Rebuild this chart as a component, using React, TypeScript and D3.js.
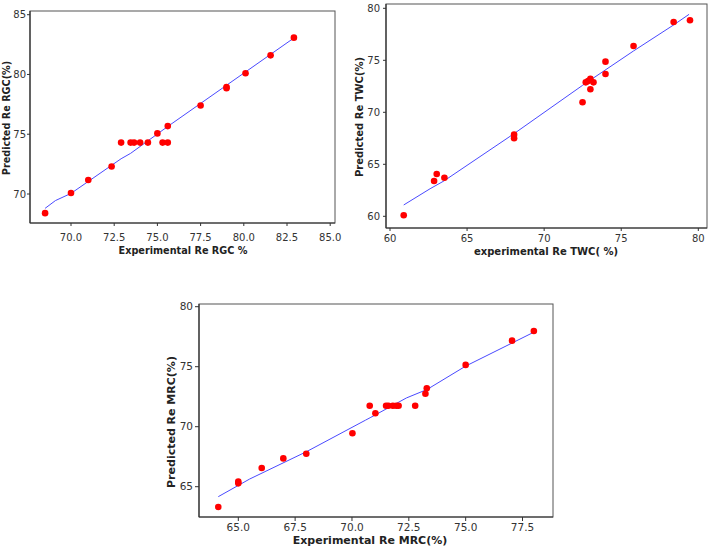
import React from "react";
import * as d3 from "d3";

// ---------- Panel 1: RGC ----------
const rgcExp = [68.5, 70.0, 71.0, 72.35, 72.9, 73.45, 73.65, 74.0, 74.45, 75.0, 75.3, 75.6, 75.6, 77.5, 79.0, 79.0, 80.1, 81.55, 82.9];
const rgcPred = [68.4, 70.08, 71.17, 72.3, 74.3, 74.3, 74.3, 74.3, 74.3, 75.07, 74.3, 74.3, 75.68, 77.41, 78.85, 78.95, 80.1, 81.6, 83.08];
const rgcFitX = [68.5, 69.1, 70.0, 72.35, 72.9, 73.45, 75.6, 82.9];
const rgcFitY = [68.8, 69.45, 70.05, 72.4, 72.95, 73.4, 75.65, 83.05];
const rgcXTicks = [70.0, 72.5, 75.0, 77.5, 80.0, 82.5, 85.0];
const rgcYTicks = [70, 75, 80, 85];

// ---------- Panel 2: TWC ----------
const twcExp = [60.89, 62.86, 63.03, 63.53, 68.05, 68.05, 72.49, 72.7, 72.85, 73.0, 73.2, 73.0, 73.98, 73.98, 75.8, 78.4, 79.46];
const twcPred = [60.1, 63.4, 64.07, 63.71, 67.85, 67.5, 70.96, 72.88, 73.0, 73.23, 72.88, 72.21, 74.87, 73.68, 76.37, 78.68, 78.85];
const twcFitX = [60.89, 62.6, 63.5, 68.05, 72.5, 75.8, 78.4, 79.4];
const twcFitY = [61.09, 62.65, 63.4, 67.95, 72.6, 75.9, 78.4, 79.42];
const twcXTicks = [60, 65, 70, 75, 80];
const twcYTicks = [60, 65, 70, 75, 80];

// ---------- Panel 3: MRC ----------
const mrcExp = [64.12, 65.0, 65.0, 66.03, 66.98, 67.99, 70.02, 70.78, 71.03, 71.5, 71.6, 71.8, 71.95, 72.05, 72.78, 73.23, 73.29, 75.0, 77.04, 78.0];
const mrcPred = [63.31, 65.42, 65.28, 66.56, 67.36, 67.75, 69.45, 71.75, 71.12, 71.75, 71.75, 71.75, 71.75, 71.75, 71.75, 72.75, 73.2, 75.15, 77.17, 77.98];
const mrcFitX = [64.12, 65.5, 68.0, 70.6, 70.8, 72.4, 73.3, 75.0, 77.95];
const mrcFitY = [64.17, 65.64, 67.92, 70.55, 70.75, 72.4, 73.1, 75.05, 77.83];
const mrcXTicks = [65.0, 67.5, 70.0, 72.5, 75.0, 77.5];
const mrcYTicks = [65, 70, 75, 80];

type PanelProps = {
  left: number; right: number; top: number; bottom: number;
  xDomain: [number, number]; yDomain: [number, number];
  xs: number[]; ys: number[]; fitX: number[]; fitY: number[];
  xTicks: number[]; yTicks: number[]; xFmt: string;
  xTitle: string; yTitle: string;
  xTitleX: number; xTitleY: number; yTitleX: number; yTitleY: number;
  labelY: number; labelOff: number; tickSize: number; titleSize: number; tickLen: number;
};

const FONT = "'DejaVu Sans', Verdana, sans-serif";

function Panel(p: PanelProps) {
  const x = d3.scaleLinear().domain(p.xDomain).range([p.left, p.right]);
  const y = d3.scaleLinear().domain(p.yDomain).range([p.bottom, p.top]);
  const fmt = d3.format(p.xFmt);
  const line = d3.line<number>().x((d) => x(p.fitX[d])).y((d) => y(p.fitY[d]));
  const idx = p.fitX.map((_, i) => i);
  return (
    <g>
      <rect x={p.left} y={p.top} width={p.right - p.left} height={p.bottom - p.top}
        fill="white" stroke="#555" strokeWidth={1} />
      <line x1={p.left} x2={p.left} y1={p.top} y2={p.bottom} stroke="#333" strokeWidth={1.2} />
      <line x1={p.left} x2={p.right} y1={p.bottom} y2={p.bottom} stroke="#333" strokeWidth={1.2} />
      {p.xTicks.map((t) => (
        <g key={"x" + t}>
          <line x1={x(t)} x2={x(t)} y1={p.bottom} y2={p.bottom + p.tickLen} stroke="#333" />
          <text x={x(t)} y={p.labelY} textAnchor="middle" fontSize={p.tickSize} fill="#333" fontFamily={FONT}>{fmt(t)}</text>
        </g>
      ))}
      {p.yTicks.map((t) => (
        <g key={"y" + t}>
          <line x1={p.left - p.tickLen} x2={p.left} y1={y(t)} y2={y(t)} stroke="#333" />
          <text x={p.left - p.labelOff} y={y(t)} dy="0.35em" textAnchor="end" fontSize={p.tickSize} fill="#333" fontFamily={FONT}>{t}</text>
        </g>
      ))}
      <path d={line(idx) || ""} fill="none" stroke="#4a4aff" strokeWidth={1} />
      {p.xs.map((v, i) => (
        <circle key={i} cx={x(v)} cy={y(p.ys[i])} r={3.3} fill="#ff0000" />
      ))}
      <text x={p.xTitleX} y={p.xTitleY} textAnchor="middle" fontSize={p.titleSize} fontWeight="bold" fill="#222" fontFamily={FONT}>{p.xTitle}</text>
      <text transform={`translate(${p.yTitleX},${p.yTitleY}) rotate(-90)`} textAnchor="middle" fontSize={p.titleSize} fontWeight="bold" fill="#222" fontFamily={FONT}>{p.yTitle}</text>
    </g>
  );
}

export default function App() {
  const p1x = d3.scaleLinear().domain([70, 82.5]).range([71, 287]);
  const p1y = d3.scaleLinear().domain([70, 85]).range([194, 14.7]);
  const p2x = d3.scaleLinear().domain([60, 80]).range([390, 698.3]);
  const p2y = d3.scaleLinear().domain([60, 80]).range([216.3, 8.3]);
  const p3x = d3.scaleLinear().domain([65, 77.5]).range([238.3, 522.5]);
  const p3y = d3.scaleLinear().domain([65, 80]).range([486.7, 306.7]);
  return (
    <svg width={709} height={547} style={{ position: "absolute", left: 0, top: 0, background: "white" }}>
      <Panel left={30} right={335} top={11} bottom={223}
        xDomain={[p1x.invert(30), p1x.invert(335)]} yDomain={[p1y.invert(223), p1y.invert(11)]}
        xs={rgcExp} ys={rgcPred} fitX={rgcFitX} fitY={rgcFitY}
        xTicks={rgcXTicks} yTicks={rgcYTicks} xFmt=".1f"
        xTitle="Experimental  Re RGC %" yTitle="Predicted Re RGC(%)"
        xTitleX={183} xTitleY={254} yTitleX={10} yTitleY={118} labelY={241}
        labelOff={4} tickSize={10} titleSize={9.7} tickLen={3} />
      <Panel left={386} right={707} top={4} bottom={228}
        xDomain={[p2x.invert(386), p2x.invert(707)]} yDomain={[p2y.invert(228), p2y.invert(4)]}
        xs={twcExp} ys={twcPred} fitX={twcFitX} fitY={twcFitY}
        xTicks={twcXTicks} yTicks={twcYTicks} xFmt="d"
        xTitle="experimental Re TWC( %)" yTitle="Predicted Re TWC(%)"
        xTitleX={546} xTitleY={255} yTitleX={363} yTitleY={117} labelY={242}
        labelOff={6} tickSize={10} titleSize={10} tickLen={3} />
      <Panel left={199} right={553} top={304} bottom={517}
        xDomain={[p3x.invert(199), p3x.invert(553)]} yDomain={[p3y.invert(517), p3y.invert(304)]}
        xs={mrcExp} ys={mrcPred} fitX={mrcFitX} fitY={mrcFitY}
        xTicks={mrcXTicks} yTicks={mrcYTicks} xFmt=".1f"
        xTitle="Experimental Re MRC(%)" yTitle="Predicted Re MRC(%)"
        xTitleX={370} xTitleY={544} yTitleX={175} yTitleY={422} labelY={531}
        labelOff={6} tickSize={10.5} titleSize={11} tickLen={4} />
    </svg>
  );
}
